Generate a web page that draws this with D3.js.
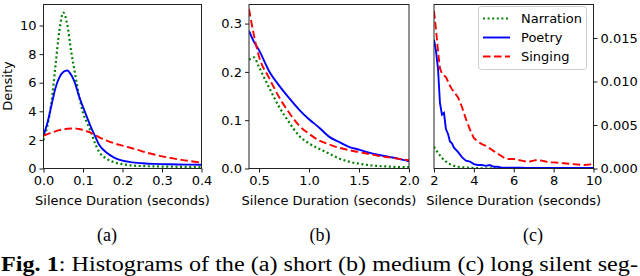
<!DOCTYPE html>
<html>
<head>
<meta charset="utf-8">
<script src="https://cdn.jsdelivr.net/npm/d3@7"></script>
<style>
  body { margin: 0; background: #fff; }
  text { font-family: "DejaVu Sans", sans-serif; }
</style>
</head>
<body>
<svg width="640" height="276"></svg>
<script>
// Data
var seriesNames = ["Narration", "Poetry", "Singing"];

// (a) short silences
var shortX = [0, 0.01, 0.02, 0.03, 0.04, 0.05, 0.06, 0.07, 0.08, 0.09, 0.10, 0.11, 0.12, 0.13, 0.14, 0.16, 0.18, 0.20, 0.22, 0.25, 0.28, 0.31, 0.34, 0.37, 0.40];
var shortNarration = [2.0, 3.0, 4.6, 7.1, 9.6, 10.9, 10.1, 8.2, 6.6, 5.1, 3.9, 3.2, 2.55, 1.8, 1.2, 0.68, 0.42, 0.3, 0.22, 0.17, 0.15, 0.13, 0.12, 0.11, 0.1];
var shortPoetry = [2.3, 3.2, 4.4, 5.6, 6.35, 6.75, 6.85, 6.55, 5.95, 5.05, 4.3, 3.6, 2.9, 2.3, 1.7, 1.1, 0.75, 0.55, 0.45, 0.37, 0.32, 0.3, 0.28, 0.27, 0.26];
var shortSinging = [2.3, 2.4, 2.5, 2.6, 2.68, 2.74, 2.78, 2.8, 2.8, 2.76, 2.7, 2.6, 2.5, 2.35, 2.2, 1.95, 1.75, 1.6, 1.45, 1.2, 0.98, 0.8, 0.65, 0.52, 0.42];

// (b) medium silences
var mediumX = [0.4, 0.45, 0.5, 0.6, 0.7, 0.8, 0.9, 1.0, 1.1, 1.2, 1.3, 1.4, 1.5, 1.6, 1.7, 1.8, 1.9, 2.0];
var mediumNarration = [0.225, 0.23, 0.21, 0.168, 0.128, 0.096, 0.068, 0.052, 0.041, 0.031, 0.021, 0.014, 0.010, 0.007, 0.005, 0.004, 0.003, 0.003];
var mediumPoetry = [0.285, 0.262, 0.245, 0.202, 0.172, 0.146, 0.122, 0.102, 0.085, 0.066, 0.055, 0.045, 0.039, 0.033, 0.028, 0.024, 0.020, 0.015];
var mediumSinging = [0.33, 0.275, 0.232, 0.188, 0.148, 0.116, 0.089, 0.072, 0.058, 0.050, 0.043, 0.038, 0.034, 0.030, 0.026, 0.023, 0.020, 0.017];

// (c) long silences
var longX = [2.0, 2.1, 2.2, 2.3, 2.4, 2.5, 2.6, 2.7, 2.8, 2.9, 3.0, 3.2, 3.4, 3.6, 3.8, 4.0, 4.2, 4.4, 4.6, 4.8, 5.0, 5.2, 5.4, 5.6, 5.8, 6.0, 6.2, 6.4, 6.6, 6.8, 7.0, 7.2, 7.4, 7.6, 7.8, 8.0, 8.5, 9.0, 9.5, 10.0];
var longNarration = [0.0025, 0.0021, 0.0018, 0.0015, 0.0012, 0.0010, 0.0008, 0.0006, 0.0005, 0.0004, 0.0003, 0.0002, 0.00015, 0.0001, 0.0001, 0.00005, 0.00004, 0.00003, 0.00003, 0.00002, 0.00002, 0.00002, 0.00001, 0.00001, 0.00001, 0.00001, 0.00001, 0.00001, 0.00001, 0.00001, 0.00001, 0.00001, 0.00001, 0.00001, 0.00001, 0.00001, 0.00001, 0.00001, 0.00001, 0.00001];
var longPoetry = [0.0148, 0.0135, 0.0115, 0.0075, 0.0062, 0.0064, 0.0045, 0.0040, 0.0031, 0.0029, 0.0024, 0.0019, 0.0013, 0.0009, 0.0008, 0.0005, 0.0004, 0.0004, 0.0003, 0.0004, 0.0002, 0.0002, 0.0001, 0.0001, 0.0001, 0.0001, 0.00008, 0.00008, 0.00006, 0.00006, 0.00006, 0.00005, 0.00005, 0.00005, 0.00005, 0.00005, 0.00005, 0.00005, 0.00005, 0.00005];
var longSinging = [0.0181, 0.0160, 0.0135, 0.0115, 0.0109, 0.0107, 0.0105, 0.0100, 0.0095, 0.0091, 0.0088, 0.0082, 0.0071, 0.0057, 0.0045, 0.0035, 0.0031, 0.0028, 0.0026, 0.0023, 0.0020, 0.0017, 0.0014, 0.0011, 0.0011, 0.0011, 0.0010, 0.0009, 0.0008, 0.0008, 0.0009, 0.0010, 0.0009, 0.0008, 0.0007, 0.0007, 0.0006, 0.0005, 0.0004, 0.0005];

var shortYTicks = [0, 2, 4, 6, 8, 10];
var mediumYTicks = [0, 0.1, 0.2, 0.3];
var longYTicks = [0, 0.005, 0.010, 0.015];
var shortXTicks = [0, 0.1, 0.2, 0.3, 0.4];
var mediumXTicks = [0.5, 1.0, 1.5, 2.0];
var longXTicks = [2, 4, 6, 8, 10];
var subCaptions = ["(a)", "(b)", "(c)"];

// Styles
var colors = ["#008000", "#0000ff", "#ff0000"];
var dashes = ["2,2.6", null, "7.5,3.5"];
var fs = 13;

var svg = d3.select("svg");
var plotTop = 4.5, plotBottom = 168.5;

var panels = [
  {x0: 43.5, x1: 201.5, xDom: [0, 0.4], yDom: [0, 11.47], xs: shortX,
   ys: [shortNarration, shortPoetry, shortSinging], xt: shortXTicks, yt: shortYTicks,
   xf: d3.format(".1f"), yf: d3.format("d"), right: false, curve: d3.curveMonotoneX},
  {x0: 249, x1: 409, xDom: [0.4, 2.0], yDom: [0, 0.3395], xs: mediumX,
   ys: [mediumNarration, mediumPoetry, mediumSinging], xt: mediumXTicks, yt: mediumYTicks,
   xf: d3.format(".1f"), yf: d3.format(".1f"), right: false, curve: d3.curveMonotoneX},
  {x0: 434, x1: 593.5, xDom: [2, 10], yDom: [0, 0.01885], xs: longX,
   ys: [longNarration, longPoetry, longSinging], xt: longXTicks, yt: longYTicks,
   xf: d3.format("d"), yf: d3.format(".3f"), right: true, curve: d3.curveLinear}
];

panels.forEach(function (p, i) {
  var x = d3.scaleLinear().domain(p.xDom).range([p.x0, p.x1]);
  var y = d3.scaleLinear().domain(p.yDom).range([plotBottom, plotTop]);
  var g = svg.append("g");

  // clip so lines stay inside the frame
  svg.append("clipPath").attr("id", "clip" + i)
    .append("rect").attr("x", p.x0).attr("y", plotTop).attr("width", p.x1 - p.x0).attr("height", plotBottom - plotTop);

  var lines = g.append("g").attr("clip-path", "url(#clip" + i + ")");
  p.ys.forEach(function (vals, s) {
    var line = d3.line()
      .x(function (d, k) { return x(p.xs[k]); })
      .y(function (d) { return y(d); })
      .curve(p.curve);
    lines.append("path")
      .attr("d", line(vals))
      .attr("fill", "none")
      .attr("stroke", colors[s])
      .attr("stroke-width", s == 0 ? 2.2 : 1.9)
      .attr("stroke-dasharray", dashes[s]);
  });

  var xAxis = g.append("g")
    .attr("transform", "translate(0," + plotBottom + ")")
    .call(d3.axisBottom(x).tickValues(p.xt).tickFormat(p.xf).tickSize(4).tickPadding(3));
  var yAxis = g.append("g")
    .attr("transform", "translate(" + (p.right ? p.x1 : p.x0) + ",0)")
    .call((p.right ? d3.axisRight(y) : d3.axisLeft(y)).tickValues(p.yt).tickFormat(p.yf).tickSize(4).tickPadding(3));
  [xAxis, yAxis].forEach(function (a) {
    a.select(".domain").remove();
    a.selectAll("text").attr("font-size", fs).attr("font-family", "DejaVu Sans").attr("fill", "#000");
    a.selectAll("line").attr("stroke", "#000").attr("stroke-width", 0.9);
  });

  // frame
  g.append("rect")
    .attr("x", p.x0).attr("y", plotTop)
    .attr("width", p.x1 - p.x0).attr("height", plotBottom - plotTop)
    .attr("fill", "none").attr("stroke", "#222").attr("stroke-width", 1);

  var cx = (p.x0 + p.x1) / 2;
  g.append("text")
    .attr("x", cx).attr("y", 205)
    .attr("text-anchor", "middle")
    .attr("font-size", fs)
    .text("Silence Duration (seconds)");

  g.append("text")
    .attr("x", [107, 320, 533][i]).attr("y", 241)
    .attr("text-anchor", "middle")
    .attr("font-size", 18)
    .style("font-family", "Liberation Serif")
    .text(subCaptions[i]);
});

// y label
svg.append("text")
  .attr("transform", "translate(11.5,86) rotate(-90)")
  .attr("text-anchor", "middle")
  .attr("font-size", fs)
  .text("Density");

// Legend
var leg = svg.append("g");
leg.append("rect")
  .attr("x", 478.5).attr("y", 6.5).attr("width", 108).attr("height", 63).attr("rx", 3)
  .attr("fill", "#fff").attr("fill-opacity", 0.8).attr("stroke", "#ccc");
seriesNames.forEach(function (n, s) {
  var ly = 18.5 + s * 19;
  leg.append("line")
    .attr("x1", 483).attr("x2", 510).attr("y1", ly).attr("y2", ly)
    .attr("stroke", colors[s]).attr("stroke-width", s == 0 ? 2.2 : 1.9)
    .attr("stroke-dasharray", dashes[s]);
  leg.append("text")
    .attr("x", 521).attr("y", ly + 4.5)
    .attr("font-size", fs)
    .text(n);
});

// Figure caption
var cap = svg.append("text")
  .attr("x", 1).attr("y", 271)
  .attr("font-size", 20)
  .attr("textLength", 637)
  .attr("lengthAdjust", "spacingAndGlyphs")
  .style("font-family", "Liberation Serif");
cap.append("tspan").attr("font-weight", "bold").text("Fig. 1");
cap.append("tspan").text(": Histograms of the (a) short (b) medium (c) long silent seg-");
</script>
</body>
</html>
